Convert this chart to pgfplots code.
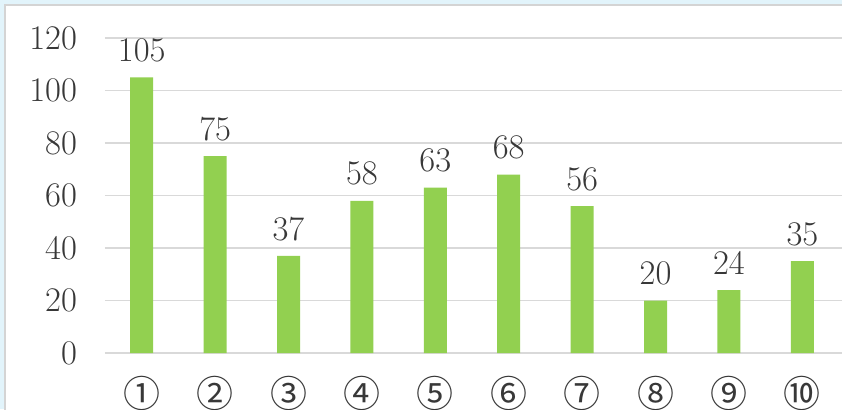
\documentclass[border=0pt]{standalone}
\usepackage{pgfplots}
\pgfplotsset{compat=1.18}
\usepackage{fontspec}
\newfontfamily\cjk{Noto Sans CJK JP}
\definecolor{bargreen}{HTML}{92D050}
\definecolor{gridgray}{HTML}{D9D9D9}
\definecolor{bgblue}{HTML}{E2F4FB}
\definecolor{panelgray}{HTML}{D4D4D4}
\definecolor{txt}{HTML}{383838}
\begin{document}
\begin{tikzpicture}[x=1pt,y=1pt]
\useasboundingbox (0,0) rectangle (421,204.5);
\clip (0,0) rectangle (421,204.5);
\fill[bgblue] (0,0) rectangle (421,204.5);
\filldraw[fill=white, draw=panelgray, line width=1pt] (2.5,-10) rectangle (440,202);
\begin{axis}[
    at={(52.5pt,28pt)}, anchor=south west,
    width=368.5pt, height=157.5pt, scale only axis=true,
    xmin=0.5, xmax=10.54, ymin=0, ymax=120,
    ytick={0,20,...,120},
    xtick={1,...,10},
    xticklabels={①,②,③,④,⑤,⑥,⑦,⑧,⑨,⑩},
    axis line style={draw=none},
    major tick length=0pt,
    ymajorgrids, grid style={gridgray, line width=0.8pt},
    yticklabel style={font=\fontsize{16.5}{18}\selectfont, text=txt, anchor=east, xshift=-10.5pt},
    xticklabel style={font=\cjk\fontsize{18.5}{22}\selectfont, text=txt, anchor=center, yshift=-20pt},
    clip=false,
    ybar, bar width=11.5pt,
    nodes near coords,
    nodes near coords style={font=\fontsize{16.5}{18}\selectfont, text=txt, anchor=center, yshift=13.5pt},
]
\addplot[fill=bargreen, draw=none] coordinates {
    (1,105) (2,75) (3,37) (4,58) (5,63)
    (6,68) (7,56) (8,20) (9,24) (10,35)
};
\end{axis}
\end{tikzpicture}
\end{document}
